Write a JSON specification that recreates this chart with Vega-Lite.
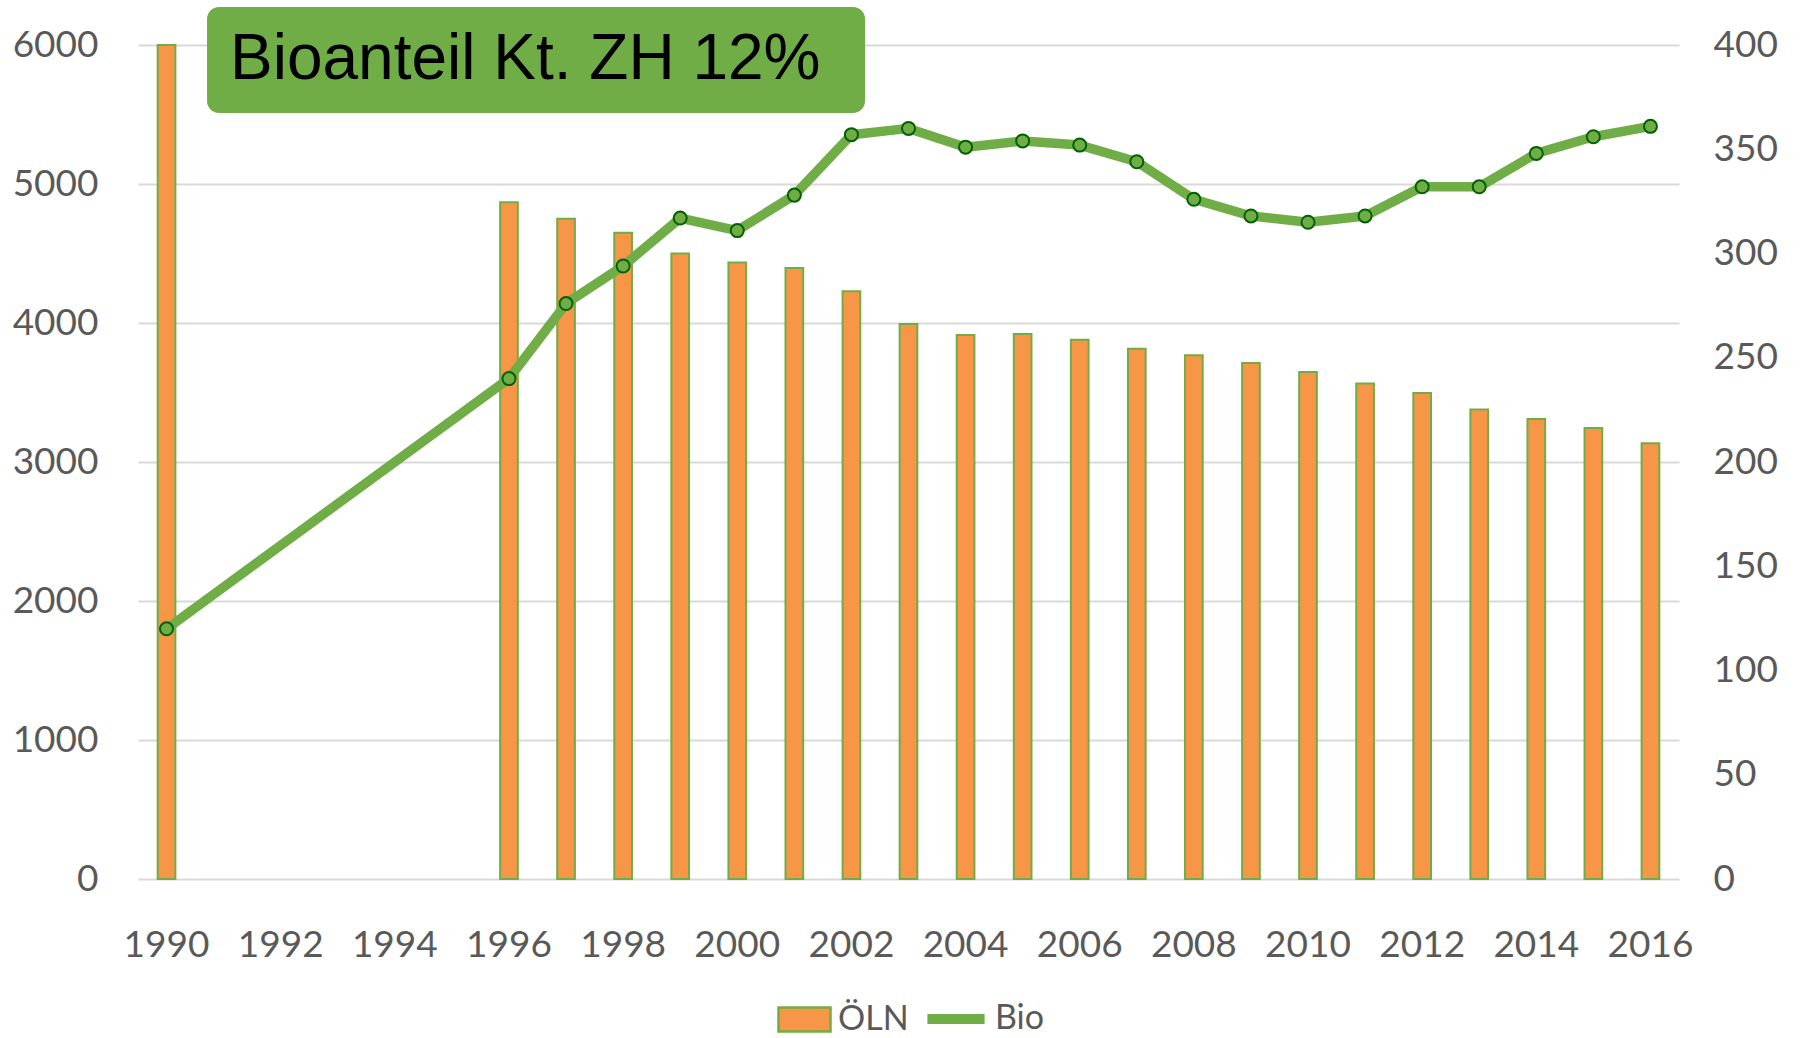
{
  "$schema": "https://vega.github.io/schema/vega-lite/v6.json",
  "autosize": {"type": "none"},
  "width": 1541,
  "height": 834,
  "padding": {"left": 138, "top": 45, "right": 124, "bottom": 159},
  "background": "white",
  "config": {
    "view": {"stroke": null},
    "font": "Lato",
    "axis": {"labelFont": "Lato", "labelColor": "#595959", "labelFontSize": 37, "ticks": false, "domain": false, "grid": false, "title": null},
    "legend": {"labelFont": "Lato", "labelFontSize": 34, "labelColor": "#595959", "orient": "bottom", "direction": "horizontal", "title": null, "offset": 25,
      "layout": {"bottom": {"anchor": "middle", "direction": "horizontal", "margin": 12}}}
  },
  "datasets": {
    "main": [
      {"year": 1990, "oln": 6000, "bio": 120},
      {"year": 1996, "oln": 4868, "bio": 240},
      {"year": 1997, "oln": 4750, "bio": 276},
      {"year": 1998, "oln": 4649, "bio": 294},
      {"year": 1999, "oln": 4500, "bio": 317},
      {"year": 2000, "oln": 4436, "bio": 311},
      {"year": 2001, "oln": 4396, "bio": 328},
      {"year": 2002, "oln": 4228, "bio": 357},
      {"year": 2003, "oln": 3992, "bio": 360},
      {"year": 2004, "oln": 3914, "bio": 351},
      {"year": 2005, "oln": 3921, "bio": 354},
      {"year": 2006, "oln": 3879, "bio": 352},
      {"year": 2007, "oln": 3815, "bio": 344},
      {"year": 2008, "oln": 3768, "bio": 326},
      {"year": 2009, "oln": 3713, "bio": 318},
      {"year": 2010, "oln": 3647, "bio": 315},
      {"year": 2011, "oln": 3564, "bio": 318},
      {"year": 2012, "oln": 3496, "bio": 332},
      {"year": 2013, "oln": 3378, "bio": 332},
      {"year": 2014, "oln": 3309, "bio": 348},
      {"year": 2015, "oln": 3245, "bio": 356},
      {"year": 2016, "oln": 3134, "bio": 361}
    ]
  },
  "resolve": {"scale": {"x": "independent", "y": "independent"}},
  "layer": [
    {
      "data": {"name": "main"},
      "resolve": {"scale": {"y": "independent"}},
      "layer": [
        {
          "mark": {"type": "bar", "stroke": "#70AD47", "strokeWidth": 2},
          "encoding": {
            "x": {
              "field": "year", "type": "ordinal",
              "scale": {"domain": [1990,1991,1992,1993,1994,1995,1996,1997,1998,1999,2000,2001,2002,2003,2004,2005,2006,2007,2008,2009,2010,2011,2012,2013,2014,2015,2016], "paddingInner": 0.69, "paddingOuter": 0.345},
              "axis": {"values": [1990,1992,1994,1996,1998,2000,2002,2004,2006,2008,2010,2012,2014,2016], "labelAngle": 0, "labelPadding": 48}
            },
            "y": {
              "field": "oln", "type": "quantitative",
              "scale": {"domain": [0, 6000], "nice": false},
              "axis": {"orient": "left", "format": "d", "values": [0,1000,2000,3000,4000,5000,6000], "grid": true, "gridColor": "#D9D9D9", "gridWidth": 2, "labelPadding": 40}
            },
            "fill": {
              "datum": "ÖLN", "type": "nominal",
              "scale": {"domain": ["ÖLN"], "range": ["#F79646"]},
              "legend": {"symbolType": "M-1,-0.46H1V0.46H-1Z", "symbolSize": 2704, "symbolStrokeColor": "#70AD47", "symbolStrokeWidth": 2.5, "labelOffset": 6, "padding": 4}
            }
          }
        },
        {
          "encoding": {
            "x": {"field": "year", "type": "ordinal"},
            "y": {
              "field": "bio", "type": "quantitative",
              "scale": {"domain": [0, 400], "nice": false},
              "axis": {"orient": "right", "values": [0,50,100,150,200,250,300,350,400], "labelPadding": 34}
            }
          },
          "layer": [
            {
              "mark": {"type": "line", "strokeWidth": 9.5, "strokeJoin": "round"},
              "encoding": {
                "stroke": {
                  "datum": "Bio", "type": "nominal",
                  "scale": {"domain": ["Bio"], "range": ["#70AD47"]},
                  "legend": {"symbolType": "M-1.1,0H1.1", "symbolSize": 2704, "symbolStrokeWidth": 10, "symbolFillColor": "transparent", "labelOffset": 8, "padding": 0}
                }
              }
            },
            {
              "mark": {"type": "circle", "size": 170, "fill": "#70AD47", "stroke": "#006100", "strokeWidth": 2, "opacity": 1}
            }
          ]
        }
      ]
    },
    {
      "data": {"values": [{}]},
      "layer": [
        {
          "mark": {"type": "rect", "fill": "#70AD47", "cornerRadius": 12},
          "encoding": {
            "x": {"datum": 0.0448, "type": "quantitative", "scale": {"domain": [0, 1], "nice": false, "zero": false}, "axis": null},
            "x2": {"datum": 0.4718},
            "y": {"datum": 0.9185, "type": "quantitative", "scale": {"domain": [0, 1], "nice": false, "zero": false}, "axis": null},
            "y2": {"datum": 1.0456}
          }
        },
        {
          "mark": {"type": "text", "text": "Bioanteil Kt. ZH 12%", "font": "Liberation Sans", "fontSize": 64, "color": "#000000", "align": "left", "baseline": "middle"},
          "encoding": {
            "x": {"datum": 0.0597, "type": "quantitative"},
            "y": {"datum": 0.982, "type": "quantitative"}
          }
        }
      ]
    }
  ]
}
